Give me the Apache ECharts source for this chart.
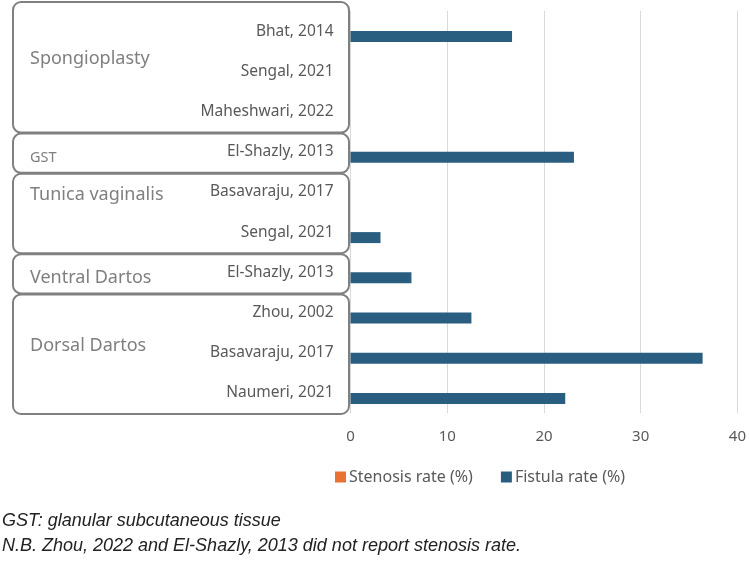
<!DOCTYPE html>
<html>
<head>
<meta charset="utf-8">
<script src="https://cdn.jsdelivr.net/npm/echarts@6/dist/echarts.min.js"></script>
<style>
  html, body { margin: 0; padding: 0; background: #fff; }
  #chart { width: 749px; height: 569px; }
</style>
</head>
<body>
<div id="chart"></div>
<script>
// data
const studies = ['Bhat, 2014', 'Sengal, 2021', 'Maheshwari, 2022', 'El-Shazly, 2013', 'Basavaraju, 2017',
  'Sengal, 2021', 'El-Shazly, 2013', 'Zhou, 2002', 'Basavaraju, 2017', 'Naumeri, 2021'];
const stenosisRate = [0, 0, 0, null, 0, 0, null, null, 0, 0];
const fistulaRate = [16.7, 0, 0, 23.1, 0, 3.1, 6.3, 12.5, 36.4, 22.2];
const groupNames = ['Spongioplasty', 'GST', 'Tunica vaginalis', 'Ventral Dartos', 'Dorsal Dartos'];
const groupSizes = [3, 1, 2, 1, 3];
const xTicks = [0, 10, 20, 30, 40];

const fontColor = '#595959';
const fontFamily = '"Noto Sans", sans-serif';

const chart = echarts.init(document.getElementById('chart'));

const option = {
  backgroundColor: '#fff',
  animation: false,
  textStyle: { fontFamily: fontFamily },
  grid: { left: 350.5, right: 10, top: 11, bottom: 156 },
  legend: {
    bottom: 79,
    left: 330,
    itemWidth: 11,
    itemHeight: 11,
    itemGap: 28,
    icon: 'rect',
    textStyle: { color: fontColor, fontSize: 16, fontFamily: fontFamily, padding: [0, 0, 0, -2] },
    data: ['Stenosis rate (%)', 'Fistula rate (%)']
  },
  xAxis: {
    type: 'value',
    min: xTicks[0],
    max: xTicks[xTicks.length - 1],
    interval: 10,
    axisLine: { show: false },
    axisTick: { show: false },
    axisLabel: { color: fontColor, fontSize: 15, margin: 16 },
    splitLine: { lineStyle: { color: '#d9d9d9', width: 1 } }
  },
  yAxis: {
    type: 'category',
    inverse: true,
    data: studies,
    axisLine: { show: false },
    axisTick: { show: false },
    axisLabel: { color: fontColor, fontSize: 15.5, margin: 17, verticalAlign: 'middle', padding: [5, 0, 0, 0] }
  },
  series: [
    {
      name: 'Stenosis rate (%)',
      type: 'bar',
      data: stenosisRate,
      barWidth: 11,
      barGap: 0,
      itemStyle: { color: '#E97132' }
    },
    {
      name: 'Fistula rate (%)',
      type: 'bar',
      data: fistulaRate,
      barWidth: 11,
      barGap: 0,
      itemStyle: { color: '#2A5E80' }
    }
  ]
};
chart.setOption(option);

// bracket boxes and group names on the left, placed from the category axis
const band = chart.convertToPixel({ yAxisIndex: 0 }, 1) - chart.convertToPixel({ yAxisIndex: 0 }, 0);
const rowY = (i) => chart.convertToPixel({ yAxisIndex: 0 }, i);
const graphics = [];
let start = 0;
groupNames.forEach((name, g) => {
  const end = start + groupSizes[g] - 1;
  const top = g === 0 ? 2 : rowY(start) - band / 2 + 2;
  const bottom = rowY(end) + band / 2 + 1;
  graphics.push({
    type: 'rect',
    shape: { x: 13, y: top, width: 336, height: bottom - top, r: 8 },
    style: { fill: 'none', stroke: '#808080', lineWidth: 2 },
    silent: true
  });
  const mid = (top + bottom) / 2;
  const small = name === 'GST';
  let labelY = groupSizes[g] === 2 ? rowY(start) + 3 : (groupSizes[g] === 3 ? mid - 8 : rowY(start) + 6);
  graphics.push({
    type: 'text',
    x: 30,
    y: labelY,
    style: {
      text: name,
      fill: '#7f7f7f',
      fontSize: small ? 14.5 : 18,
      fontFamily: fontFamily,
      verticalAlign: 'middle'
    },
    silent: true
  });
  start = end + 1;
});

// footnotes
graphics.push({
  type: 'text', x: 2, y: 521,
  style: { text: 'GST: glanular subcutaneous tissue', fill: '#222', fontSize: 18,
    fontStyle: 'italic', fontFamily: '"Liberation Sans", Arial, sans-serif', verticalAlign: 'middle' }
});
graphics.push({
  type: 'text', x: 2, y: 546,
  style: { text: 'N.B. Zhou, 2022 and El-Shazly, 2013 did not report stenosis rate.', fill: '#222', fontSize: 18,
    fontStyle: 'italic', fontFamily: '"Liberation Sans", Arial, sans-serif', verticalAlign: 'middle' }
});

chart.setOption({ graphic: graphics });
</script>
</body>
</html>
